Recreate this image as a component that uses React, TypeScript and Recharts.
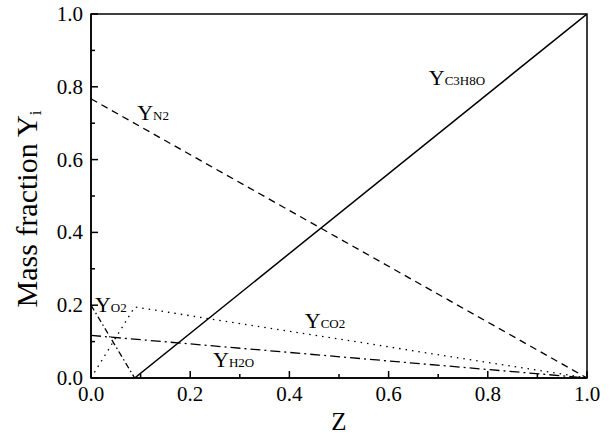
import { LineChart, Line, XAxis, YAxis, ReferenceArea, ReferenceDot } from "recharts";

const fuelZ = [0.088, 1];
const fuelY = [0, 1];
const n2Z = [0, 1];
const n2Y = [0.767, 0];
const o2Z = [0, 0.088];
const o2Y = [0.2, 0];
const co2Z = [0, 0.088, 1];
const co2Y = [0, 0.195, 0];
const h2oZ = [0, 1];
const h2oY = [0.117, 0];

const xTicks = [0, 0.1, 0.2, 0.3, 0.4, 0.5, 0.6, 0.7, 0.8, 0.9, 1];
const yTicks = [0, 0.1, 0.2, 0.3, 0.4, 0.5, 0.6, 0.7, 0.8, 0.9, 1];

const labels = [
  { z: 0.093, y: 0.709, main: "Y", sub: "N2" },
  { z: 0.681, y: 0.805, main: "Y", sub: "C3H8O" },
  { z: 0.431, y: 0.137, main: "Y", sub: "CO2" },
  { z: 0.246, y: 0.03, main: "Y", sub: "H2O" },
  { z: 0.008, y: 0.182, main: "Y", sub: "O2" },
];

const zip = (xs: number[], ys: number[]) => xs.map((z, i) => ({ z, v: ys[i] }));

const font = "Liberation Serif, Times New Roman, serif";

const isMajor = (v: number) => Math.round(v * 10) % 2 === 0;

function XTick(props: any) {
  const { x, y, payload } = props;
  const major = isMajor(payload.value);
  return (
    <g>
      <line x1={x} x2={x} y1={y} y2={y - (major ? 7 : 4)} stroke="#000" strokeWidth={1.5} />
      {major && (
        <text x={x} y={y + 23} textAnchor="middle" style={{ fontSize: 21, fontFamily: font }} fill="#000">
          {payload.value.toFixed(1)}
        </text>
      )}
    </g>
  );
}

function YTick(props: any) {
  const { x, y, payload } = props;
  const major = isMajor(payload.value);
  return (
    <g>
      <line x1={x} x2={x + (major ? 7 : 4)} y1={y} y2={y} stroke="#000" strokeWidth={1.5} />
      {major && (
        <text x={x - 8} y={y + 7} textAnchor="end" style={{ fontSize: 21, fontFamily: font }} fill="#000">
          {payload.value.toFixed(1)}
        </text>
      )}
    </g>
  );
}

export default function App() {
  return (
    <div style={{ position: "absolute", left: 0, top: 0, width: 610, height: 435, background: "#fff", fontFamily: font }}>
      <LineChart width={610} height={435} margin={{ top: 14, right: 23, left: 0, bottom: 0 }}>
        <XAxis
          dataKey="z"
          type="number"
          domain={[0, 1]}
          ticks={xTicks}
          tick={<XTick />}
          tickLine={false}
          tickSize={0}
          tickMargin={0}
          axisLine={{ stroke: "#000", strokeWidth: 1.5 }}
          height={57}
          interval={0}
          allowDataOverflow
        />
        <YAxis
          type="number"
          domain={[0, 1]}
          ticks={yTicks}
          tick={<YTick />}
          tickLine={false}
          tickSize={0}
          tickMargin={0}
          axisLine={{ stroke: "#000", strokeWidth: 1.5 }}
          width={91}
          interval={0}
          allowDataOverflow
        />
        <ReferenceArea x1={0} x2={1} y1={0} y2={1} fill="none" stroke="#000" strokeWidth={1.5} />
        <Line data={zip(n2Z, n2Y)} dataKey="v" stroke="#000" strokeWidth={1.3} strokeDasharray="7 5" dot={false} isAnimationActive={false} />
        <Line data={zip(o2Z, o2Y)} dataKey="v" stroke="#000" strokeWidth={1.3} strokeDasharray="6 3 1.5 3" dot={false} isAnimationActive={false} />
        <Line data={zip(co2Z, co2Y)} dataKey="v" stroke="#000" strokeWidth={1.3} strokeDasharray="1.5 5" dot={false} isAnimationActive={false} />
        <Line data={zip(h2oZ, h2oY)} dataKey="v" stroke="#000" strokeWidth={1.3} strokeDasharray="10 4 2 4" dot={false} isAnimationActive={false} />
        <Line data={zip(fuelZ, fuelY)} dataKey="v" stroke="#000" strokeWidth={1.5} dot={false} isAnimationActive={false} />
        {labels.map((l) => (
          <ReferenceDot
            key={l.sub}
            x={l.z}
            y={l.y}
            r={0}
            fill="none"
            stroke="none"
            label={(p: any) => (
              <text x={p.viewBox.x} y={p.viewBox.y} style={{ fontFamily: font }} fill="#000">
                <tspan style={{ fontSize: 22 }}>{l.main}</tspan>
                <tspan style={{ fontSize: 13 }}>{l.sub}</tspan>
              </text>
            )}
          />
        ))}
        <text x={339} y={430} textAnchor="middle" style={{ fontSize: 25, fontFamily: font }} fill="#000">Z</text>
        <text x={37} y={209} textAnchor="middle" style={{ fontSize: 30, fontFamily: font }} fill="#000" transform="rotate(-90 37 209)">
          Mass fraction Y<tspan style={{ fontSize: 17 }} dy={4}>i</tspan>
        </text>
      </LineChart>
    </div>
  );
}
